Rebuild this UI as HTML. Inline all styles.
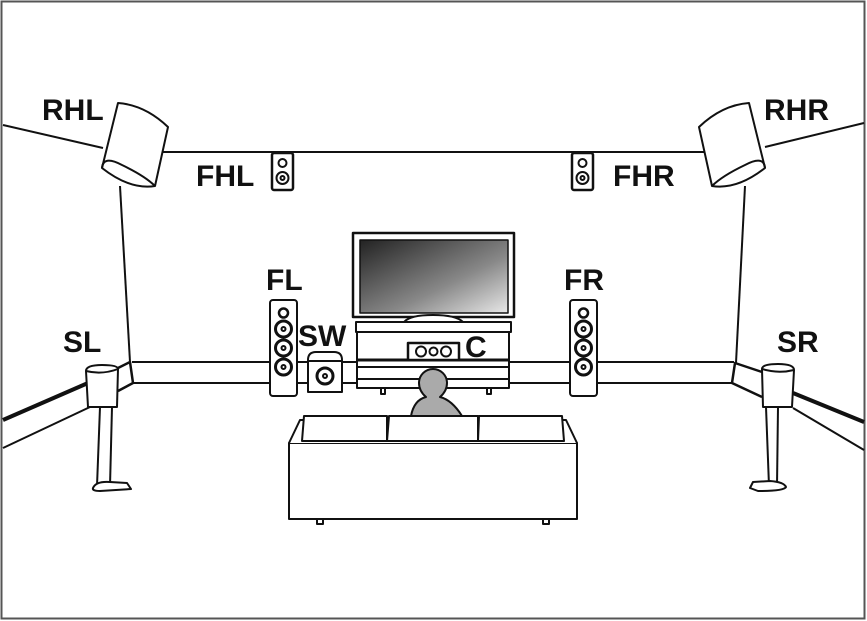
<!DOCTYPE html>
<html><head><meta charset="utf-8"><style>
html,body{margin:0;padding:0;background:#fff;}
svg{display:block;}
text{font-family:"Liberation Sans",sans-serif;font-weight:bold;font-size:30px;fill:#111;}
</style></head><body>
<svg width="867" height="621" viewBox="0 0 867 621" xmlns="http://www.w3.org/2000/svg">
<defs>
<linearGradient id="scr" x1="0" y1="0" x2="1" y2="1">
<stop offset="0" stop-color="#222"/><stop offset="0.6" stop-color="#888"/><stop offset="1" stop-color="#e8e8e8"/>
</linearGradient>
</defs>
<rect x="1.5" y="1.5" width="863" height="617" fill="#fff" stroke="#555" stroke-width="2"/>
<g fill="none" stroke="#111" stroke-width="2" stroke-linejoin="round">
<line x1="3" y1="125" x2="103" y2="148"/>
<line x1="160" y1="152" x2="707" y2="152"/>
<line x1="765" y1="147" x2="864" y2="123"/>
<line x1="120" y1="186" x2="130" y2="362"/>
<line x1="745" y1="186" x2="736" y2="363"/>
<line x1="132" y1="362" x2="734" y2="362"/>
<line x1="133" y1="383" x2="732" y2="383"/>
<path d="M118 368 L130 362 L133 383 L118 391" stroke-width="2.5"/>
<path d="M762 372 L735 363 L732 383 L762 397" stroke-width="2.5"/>
<line x1="3" y1="420" x2="88" y2="383" stroke-width="4"/>
<line x1="3" y1="448" x2="90" y2="407"/>
<line x1="793" y1="393" x2="864" y2="422" stroke-width="4"/>
<line x1="793" y1="408" x2="864" y2="450"/>
<!-- RHL -->
<path d="M118 103 Q145 105 168 127 L155 186 Q130 190 102 168 Z" fill="#fff"/>
<path d="M102 168 Q103 155 122 165 Q145 176 155 186"/>
<!-- RHR -->
<path d="M749 103 Q722 105 699 127 L712 186 Q737 190 765 168 Z" fill="#fff"/>
<path d="M765 168 Q764 155 745 165 Q722 176 712 186"/>
<!-- FHL/FHR -->
<rect x="272" y="153" width="21" height="37" rx="2" fill="#fff" stroke-width="2.5"/>
<circle cx="282.5" cy="163" r="4"/><circle cx="282.5" cy="178" r="6"/><circle cx="282.5" cy="178" r="2"/>
<rect x="572" y="153" width="21" height="37" rx="2" fill="#fff" stroke-width="2.5"/>
<circle cx="582.5" cy="163" r="4"/><circle cx="582.5" cy="178" r="6"/><circle cx="582.5" cy="178" r="2"/>
<!-- TV -->
<rect x="353" y="233" width="161" height="84" fill="#fff" stroke-width="2.5"/>
<rect x="360" y="240" width="148" height="73" fill="url(#scr)" stroke-width="1.5"/>
<path d="M404 322 Q410 315 433 315 Q456 315 463 322" fill="#fff"/>
<rect x="356" y="322" width="155" height="10" fill="#fff"/>
<rect x="357" y="332" width="152" height="56" fill="#fff"/>
<line x1="357" y1="360" x2="509" y2="360" stroke-width="3"/>
<line x1="357" y1="367" x2="509" y2="367"/>
<line x1="357" y1="379" x2="509" y2="379"/>
<rect x="381" y="388" width="4" height="6"/><rect x="487" y="388" width="4" height="6"/>
<rect x="408" y="343" width="51" height="17" fill="#fff" stroke-width="2.5"/>
<circle cx="421" cy="351.5" r="5"/><circle cx="433.5" cy="351.5" r="4"/><circle cx="446" cy="351.5" r="5"/>
<!-- FL -->
<rect x="270" y="300" width="27" height="96" rx="3" fill="#fff"/>
<circle cx="283.5" cy="313" r="4.5" stroke-width="2.5"/>
<circle cx="283.5" cy="329" r="8" stroke-width="3"/><circle cx="283.5" cy="329" r="2"/>
<circle cx="283.5" cy="348" r="8" stroke-width="3"/><circle cx="283.5" cy="348" r="2"/>
<circle cx="283.5" cy="367" r="8" stroke-width="3"/><circle cx="283.5" cy="367" r="2"/>
<!-- FR -->
<rect x="570" y="300" width="27" height="96" rx="3" fill="#fff"/>
<circle cx="583.5" cy="313" r="4.5" stroke-width="2.5"/>
<circle cx="583.5" cy="329" r="8" stroke-width="3"/><circle cx="583.5" cy="329" r="2"/>
<circle cx="583.5" cy="348" r="8" stroke-width="3"/><circle cx="583.5" cy="348" r="2"/>
<circle cx="583.5" cy="367" r="8" stroke-width="3"/><circle cx="583.5" cy="367" r="2"/>
<!-- SW -->
<path d="M308 392 L308 360 Q308 352 316 352 L334 352 Q342 352 342 360 L342 392 Z" fill="#fff"/>
<line x1="308" y1="361" x2="342" y2="361"/>
<circle cx="325" cy="376" r="8" stroke-width="3"/><circle cx="325" cy="376" r="2"/>
<!-- person -->
<path d="M411 416 Q414 400 426 397 Q419 391 419 383 A14 14 0 0 1 447 383 Q447 391 440 397 Q452 400 462 416 Z" fill="#aaa"/>
<!-- sofa -->
<rect x="289" y="443" width="288" height="76" fill="#fff"/>
<path d="M289 443 L300 420 L566 420 L577 443" fill="#fff"/>
<path d="M302 441 L304 416 L387 416 L387 441 Z" fill="#fff"/>
<path d="M387 441 L389 416 L478 416 L478 441 Z" fill="#fff"/>
<path d="M478 441 L479 416 L562 416 L564 441 Z" fill="#fff"/>
<rect x="317" y="519" width="6" height="5"/><rect x="543" y="519" width="6" height="5"/>
<!-- SL -->
<path d="M100 407 L97 486"/><path d="M112 407 L110 486"/>
<path d="M93 488 Q96 481 110 482 L127 483 L131 489 L100 491 Q92 491 93 488 Z" fill="#fff"/>
<path d="M86 371 Q86 365 102 365 Q118 365 118 369 L117 407 L88 407 Z" fill="#fff"/>
<path d="M86 371 Q102 375 118 369"/>
<!-- SR -->
<path d="M766 407 L769 486"/><path d="M778 407 L777 486"/>
<path d="M750 488 L753 482 L770 481 Q784 482 786 487 Q784 491 758 491 Z" fill="#fff"/>
<path d="M762 369 Q762 364 778 364 Q794 364 794 370 L792 407 L763 407 Z" fill="#fff"/>
<path d="M762 369 Q778 374 794 370"/>
</g>
<text x="42" y="120">RHL</text>
<text x="196" y="186">FHL</text>
<text x="266" y="290">FL</text>
<text x="63" y="352">SL</text>
<text x="298" y="346">SW</text>
<text x="465" y="357">C</text>
<text x="564" y="290">FR</text>
<text x="613" y="186">FHR</text>
<text x="764" y="120">RHR</text>
<text x="777" y="352">SR</text>
</svg>
</body></html>
